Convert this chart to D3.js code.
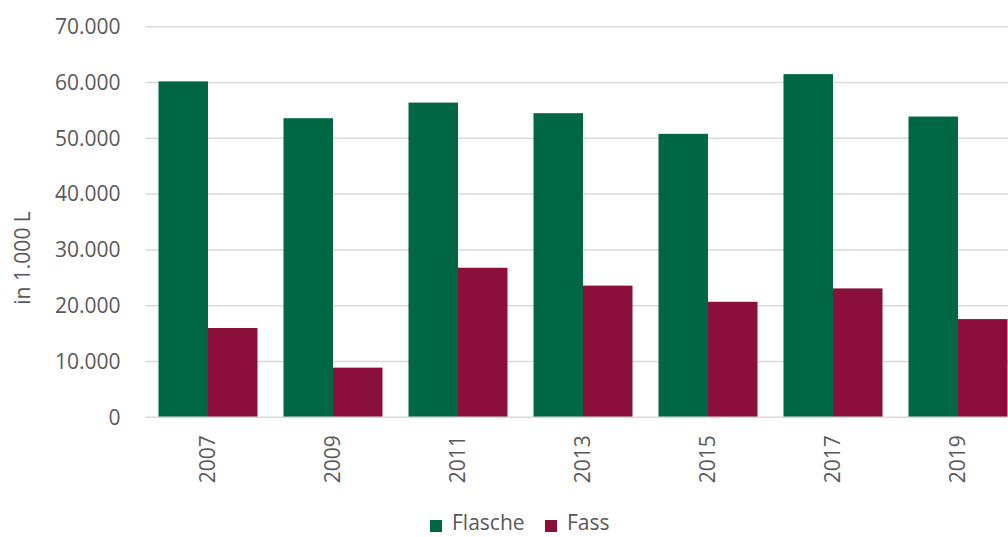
<!DOCTYPE html>
<html>
<head>
<meta charset="utf-8">
<script src="https://cdn.jsdelivr.net/npm/d3@7"></script>
<style>
  body { margin: 0; background: #fff; }
  svg { display: block; font-family: "Open Sans", sans-serif; }
</style>
</head>
<body>
<script>
// data (in 1.000 L)
var years = ["2007", "2009", "2011", "2013", "2015", "2017", "2019"];
var flasche = [60200, 53600, 56400, 54500, 50800, 61500, 53900];
var fass = [16000, 8900, 26800, 23600, 20700, 23100, 17600];
var seriesNames = ["Flasche", "Fass"];
var seriesColors = ["#006744", "#8a0f3a"];
var yTicks = [0, 10000, 20000, 30000, 40000, 50000, 60000, 70000];

var W = 1008, H = 537;
var margin = {top: 26.7, left: 145.5};
var plotH = 417.3 - margin.top;
var plotW = 125 * years.length;

var svg = d3.select("body").append("svg")
    .attr("width", W)
    .attr("height", H);

var g = svg.append("g")
    .attr("transform", "translate(" + margin.left + "," + margin.top + ")");

var x = d3.scaleBand().domain(years).range([0, plotW])
    .paddingInner(0.208).paddingOuter(0.104);
var xs = d3.scaleBand().domain(seriesNames).range([0, x.bandwidth()]);
var y = d3.scaleLinear().domain([0, 70000]).range([plotH, 0]);

var fmt = function(v) { return d3.format(",")(v).replace(/,/g, "."); };

// grid lines
g.append("g").selectAll("line")
    .data(yTicks.slice(1))
    .enter().append("line")
    .attr("x1", 0).attr("x2", plotW)
    .attr("y1", function(d) { return y(d); })
    .attr("y2", function(d) { return y(d); })
    .attr("stroke", "#d9d9d9")
    .attr("stroke-width", 1.5);

// y axis labels
var yAxis = d3.axisLeft(y).tickValues(yTicks).tickFormat(fmt).tickSize(0).tickPadding(25);
var ya = g.append("g").call(yAxis);
ya.select(".domain").remove();
ya.selectAll("text")
    .attr("fill", "#595959")
    .style("font-size", "21px")
    .style("font-family", "'Open Sans', sans-serif");

// bars
var rows = years.map(function(yr, i) {
    return {year: yr, values: [
        {name: "Flasche", v: flasche[i]},
        {name: "Fass", v: fass[i]}
    ]};
});

var groups = g.selectAll(".grp")
    .data(rows)
    .enter().append("g")
    .attr("class", "grp")
    .attr("transform", function(d) { return "translate(" + x(d.year) + ",0)"; });

groups.selectAll("rect")
    .data(function(d) { return d.values; })
    .enter().append("rect")
    .attr("x", function(d) { return xs(d.name); })
    .attr("width", xs.bandwidth())
    .attr("y", function(d) { return y(d.v); })
    .attr("height", function(d) { return plotH - y(d.v); })
    .attr("fill", function(d, i) { return seriesColors[i]; });

// baseline
g.append("line")
    .attr("x1", 0).attr("x2", plotW)
    .attr("y1", plotH).attr("y2", plotH)
    .attr("stroke", "#d9d9d9")
    .attr("stroke-width", 1.5);

// x labels, rotated
g.append("g").selectAll("text")
    .data(years)
    .enter().append("text")
    .attr("transform", function(d) {
        return "translate(" + (x(d) + x.bandwidth() / 2) + "," + (plotH + 18) + ") rotate(-90)";
    })
    .attr("text-anchor", "end")
    .attr("dy", "0.35em")
    .attr("fill", "#595959")
    .style("font-size", "21px")
    .text(function(d) { return d; });

// y axis title
svg.append("text")
    .attr("transform", "translate(23,258) rotate(-90)")
    .attr("text-anchor", "middle")
    .attr("dy", "0.35em")
    .attr("fill", "#595959")
    .style("font-size", "21px")
    .text("in 1.000 L");

// legend
var legend = svg.append("g").attr("transform", "translate(430,523)");
var lx = [0, 115];
seriesNames.forEach(function(name, i) {
    legend.append("rect")
        .attr("x", lx[i]).attr("y", -3)
        .attr("width", 12).attr("height", 12)
        .attr("fill", seriesColors[i]);
    legend.append("text")
        .attr("x", lx[i] + 22).attr("y", 0)
        .attr("dy", "0.35em")
        .attr("fill", "#595959")
        .style("font-size", "21px")
        .text(name);
});
</script>
</body>
</html>
